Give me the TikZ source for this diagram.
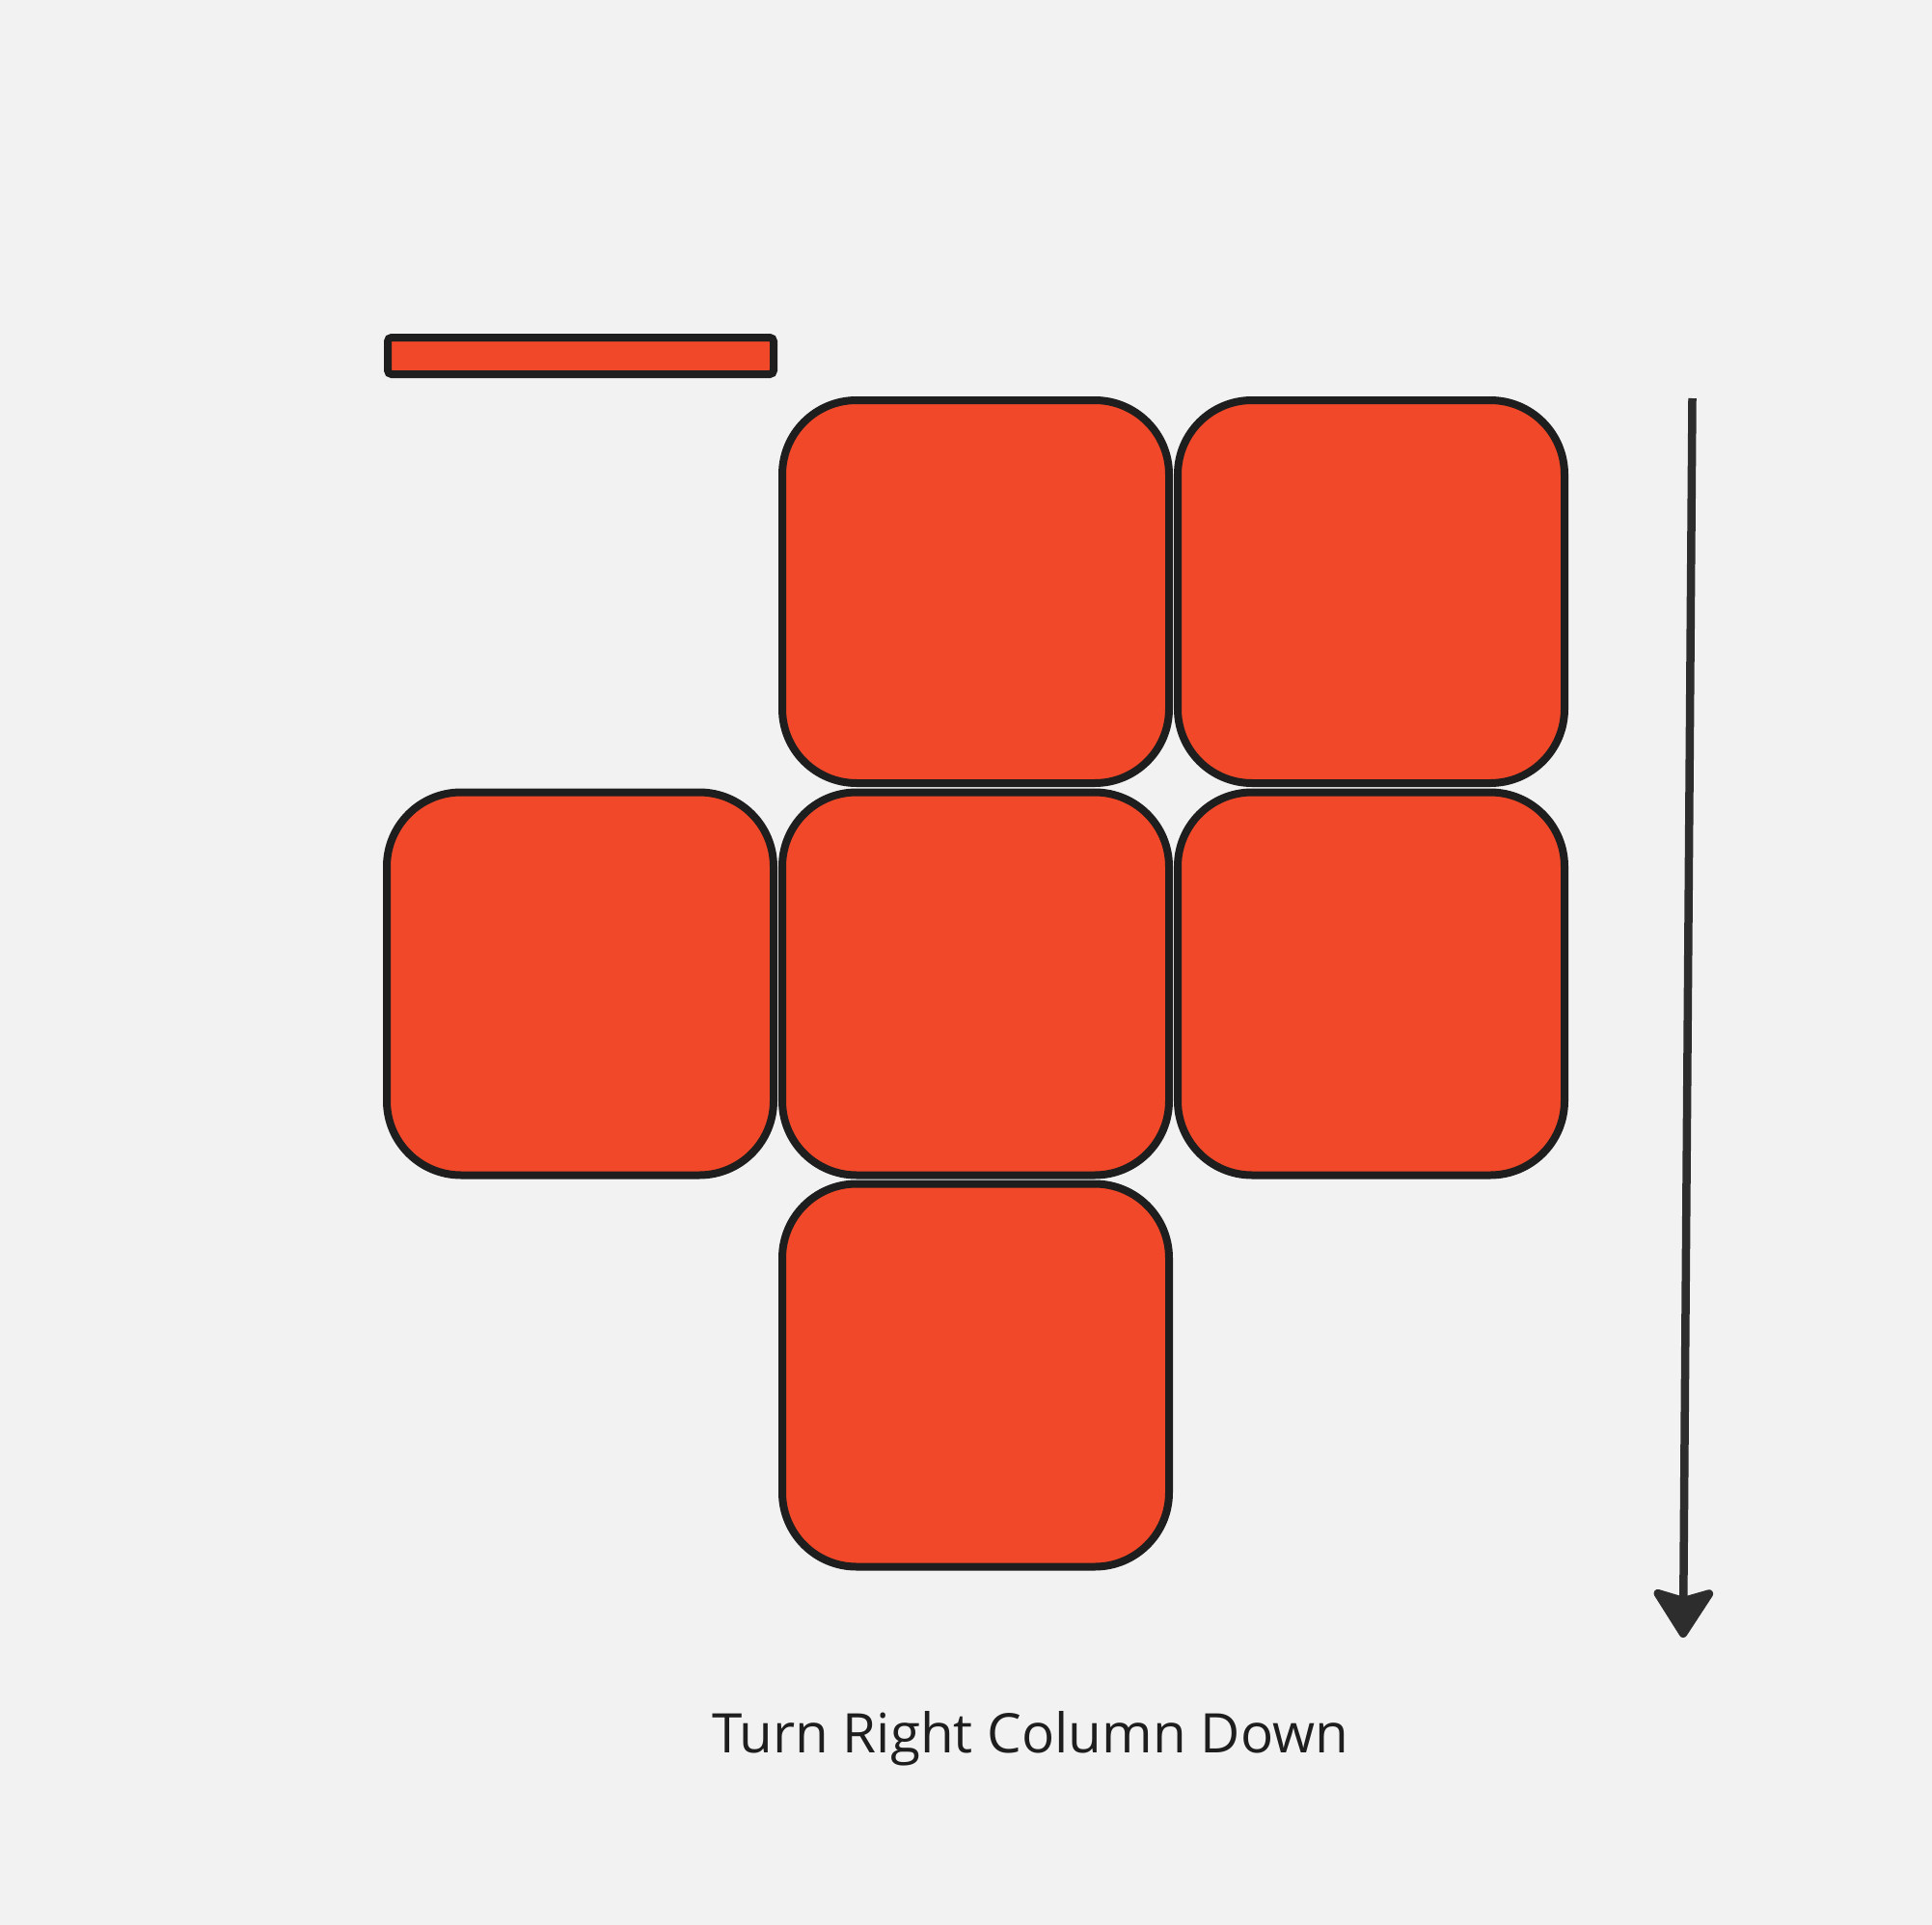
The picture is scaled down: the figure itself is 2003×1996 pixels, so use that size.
\documentclass[tikz,border=0pt]{standalone}
\usepackage{fontspec}
\setmainfont{Open Sans}
\usetikzlibrary{arrows.meta}
\definecolor{bgc}{HTML}{F2F2F2}
\definecolor{tilec}{HTML}{F04828}
\definecolor{edgec}{HTML}{1E1E1E}
\definecolor{arrowc}{HTML}{2D2D2D}
\begin{document}
\begin{tikzpicture}[x=1pt,y=-1pt,
  tile/.style={draw=edgec, fill=tilec, line width=8pt, rounded corners=77pt,
    minimum width=401pt, minimum height=397pt, inner sep=0pt, outer sep=0pt},
  bar/.style={draw=edgec, fill=tilec, line width=8pt, rounded corners=4pt,
    minimum width=400pt, minimum height=38pt, inner sep=0pt, outer sep=0pt},
  label/.style={font=\fontsize{56.6pt}{68pt}\selectfont, text=edgec, inner sep=0pt, anchor=base}]
\useasboundingbox[fill=bgc] (0,0) rectangle (2003,1996);
\node[bar] (bar) at (602,369) {};
\node[tile] (tm) at (1011.5,613.5) {};
\node[tile] (tr) at (1421.5,613.5) {};
\node[tile] (ml) at (601.5,1020) {};
\node[tile] (mc) at (1011.5,1020) {};
\node[tile] (mr) at (1421.5,1020) {};
\node[tile] (bc) at (1011.5,1426) {};
\coordinate (astart) at (1754.5,413);
\coordinate (aend) at (1745,1698);
\draw[draw=arrowc, line width=8.5pt, -{Stealth[length=56pt, width=71pt, inset=10pt, round]}] (astart) -- (aend);
\node[label] (cap) at (1068,1817) {Turn Right Column Down};
\end{tikzpicture}
\end{document}
